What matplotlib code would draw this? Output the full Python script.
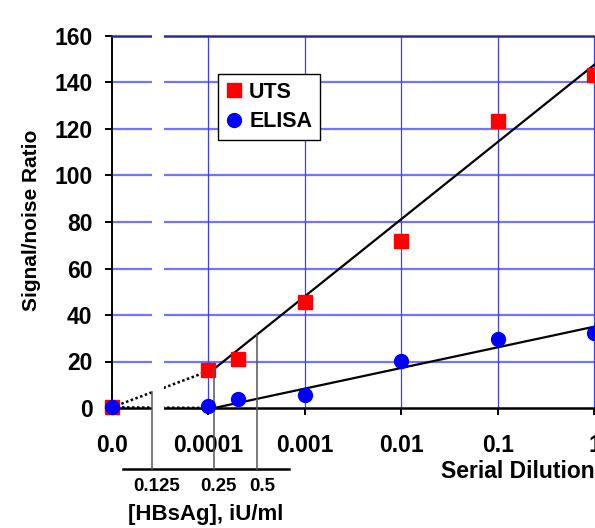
import numpy as np
import matplotlib
matplotlib.use("Agg")
import matplotlib.pyplot as plt
from matplotlib.patches import Rectangle

plt.rcParams['font.family'] = ['Liberation Sans', 'DejaVu Sans']
plt.rcParams['font.weight'] = 'bold'

# ---- data ----
dilution_labels = ['0.0', '0.0001', '0.001', '0.01', '0.1', '1']
dilution_ticks = [0, 1e-4, 1e-3, 1e-2, 1e-1, 1]
sample_dilution = [0, 1e-4, 2e-4, 1e-3, 1e-2, 1e-1, 1]
uts_values = [0.3, 16.3, 21.0, 45.6, 72.0, 123.6, 143.2]
elisa_values = [0.3, 0.8, 3.7, 5.6, 20.3, 29.7, 32.1]
# log-linear fits: y = intercept + slope * log10(dilution)
uts_fit = (147.7, 33.2)
elisa_fit = (35.0, 8.88)
fit_start_dilution = 1.14e-4
conc_labels = ['0.125', '0.25', '0.5']
conc_axis_pos = [0.415, 1.057, 1.503]   # position on the dilution axis
y_ticks = [0, 20, 40, 60, 80, 100, 120, 140, 160]


def pos(d):
    d = np.asarray(d, dtype=float)
    out = np.zeros_like(d)
    m = d > 0
    out[m] = np.log10(d[m]) + 5
    return out


fig = plt.figure(figsize=(5.95, 5.28), dpi=100)
ax = fig.add_axes([112/595, 120/528, 0.84336, 372/528])
ax.set_xlim(0, 5.2)
ax.set_ylim(0, 160)

# grid
for yv in y_ticks[1:]:
    ax.axhline(yv, color='#7373ff', lw=1.6, zorder=1)
for xv in pos(dilution_ticks)[1:]:
    ax.axvline(xv, color='#3d3dff', lw=0.9, zorder=1)

for s in ['right']:
    ax.spines[s].set_visible(False)
ax.spines['top'].set_color('#2e2e8c')
ax.spines['top'].set_linewidth(1.8)
ax.spines['left'].set_linewidth(1.4)
ax.spines['bottom'].set_linewidth(1.8)

ax.set_xticks(pos(dilution_ticks))
ax.set_xticklabels(dilution_labels)
ax.set_yticks(y_ticks)
ax.tick_params(axis='x', direction='out', length=5, width=1.4, pad=14, labelsize=16.5)
ax.tick_params(axis='y', direction='out', length=5, width=1.4, pad=9, labelsize=16.5)

# fits
x0 = pos([fit_start_dilution])[0]
xs = np.array([fit_start_dilution, 10 ** 0.3])
ax.plot(pos(xs), uts_fit[0] + uts_fit[1] * np.log10(xs), color='black', lw=1.6, zorder=2)
ax.plot(pos(xs), elisa_fit[0] + elisa_fit[1] * np.log10(xs), color='black', lw=1.6, zorder=2)
uts_start = uts_fit[0] + uts_fit[1] * np.log10(fit_start_dilution)
elisa_start = max(elisa_fit[0] + elisa_fit[1] * np.log10(fit_start_dilution), 0)
ax.plot([0, x0], [uts_values[0], uts_start], color='black', lw=1.8,
        ls=(0, (1, 1)), zorder=2, clip_on=False)
ax.plot([0, x0], [elisa_values[0], elisa_start], color='black', lw=1.8,
        ls=(0, (1, 1)), zorder=2, clip_on=False)

# axis break band
ax.add_patch(Rectangle((0.415, -1.5), 0.124, 164, facecolor='white',
                       edgecolor='none', zorder=3, clip_on=False))

# markers
px = pos(sample_dilution)
ax.plot(px, uts_values, 's', color='#ff0000', ms=10.3, zorder=4, clip_on=False,
        label='UTS', mec='#ff0000')
ax.plot(px, elisa_values, 'o', color='#0000ff', ms=10, zorder=5, clip_on=False,
        label='ELISA', mec='#0000ff')

# secondary concentration axis
y_sec = -26.2
ax.plot([0.114, 1.834], [y_sec, y_sec], color='black', lw=1.8, clip_on=False, zorder=4)
line_x = np.concatenate([[0, x0], pos(xs)])
line_y = np.concatenate([[uts_values[0], uts_start], uts_fit[0] + uts_fit[1] * np.log10(xs)])
for lab, cx in zip(conc_labels, conc_axis_pos):
    top = np.interp(cx, line_x, line_y)
    ax.plot([cx, cx], [y_sec, top], color='#555555', lw=1.1, clip_on=False, zorder=4)
    ax.text(cx + 0.05, -33.8, lab, ha='center', va='center', fontsize=13.5,
            fontweight='bold', clip_on=False)
ax.text(0.975, -45.6, '[HBsAg], iU/ml', ha='center', va='center', fontsize=16,
        fontweight='bold', clip_on=False)

# axis labels
fig.text(441/595, 1 - 472/528, 'Serial Dilution', ha='left', va='center',
         fontsize=16.5, fontweight='bold')
fig.text(32/595, 1 - 220/528, 'Signal/noise Ratio', ha='center', va='center',
         rotation=90, fontsize=15, fontweight='bold')

leg = ax.legend(loc='upper left', bbox_to_anchor=(218/595, 1 - 74/528),
                bbox_transform=fig.transFigure, borderaxespad=0, frameon=True,
                fancybox=False, edgecolor='black', framealpha=1,
                prop={'size': 15.5, 'weight': 'bold'}, handlelength=0.8,
                handletextpad=0.3, borderpad=0.35, labelspacing=0.4, numpoints=1)
leg.get_frame().set_linewidth(1.0)
leg.set_zorder(6)

fig.savefig('out.png', dpi=100)
